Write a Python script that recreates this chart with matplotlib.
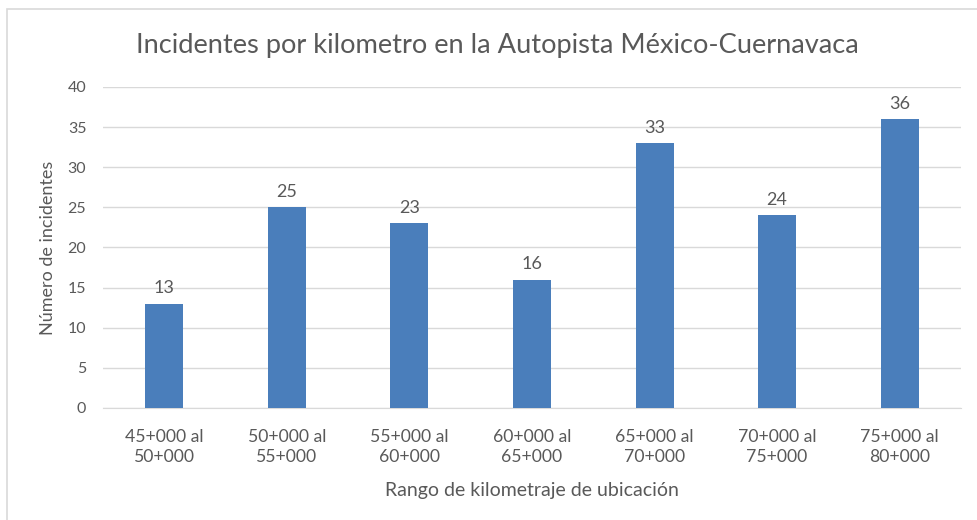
import matplotlib.pyplot as plt
from matplotlib.patches import Rectangle

categories = ['45+000 al\n50+000', '50+000 al\n55+000', '55+000 al\n60+000',
              '60+000 al\n65+000', '65+000 al\n70+000', '70+000 al\n75+000',
              '75+000 al\n80+000']
incidents = [13, 25, 23, 16, 33, 24, 36]
y_ticks = [0, 5, 10, 15, 20, 25, 30, 35, 40]

text_color = '#595959'
bar_color = '#4a7ebb'
grid_color = '#d9d9d9'

plt.rcParams['font.family'] = ['Lato', 'DejaVu Sans']

fig = plt.figure(figsize=(9.77, 5.2), dpi=100)
ax = fig.add_axes([0.1054, 0.2154, 0.8782, 0.6173])

# outer chart border (only top and left visible in the reference)
fig.patches.append(Rectangle((7 / 977, -0.05), 1.2, 1 - 9 / 520 + 0.05,
                             transform=fig.transFigure, fill=False,
                             edgecolor='#d9d9d9', linewidth=1.2))

x = range(len(categories))
bars = ax.bar(x, incidents, width=0.31, color=bar_color, zorder=3)
for xi, v in zip(x, incidents):
    ax.text(xi, v + 0.9, str(v), ha='center', va='bottom',
            fontsize=13, color=text_color)

ax.set_xlim(-0.5, len(categories) - 0.5)
ax.set_ylim(0, 40)
ax.set_yticks(y_ticks)
ax.set_xticks(list(x))
ax.set_xticklabels(categories, fontsize=12.7, color=text_color, linespacing=1.35)
ax.tick_params(axis='y', labelsize=11.5, labelcolor=text_color, length=0, pad=12)
ax.tick_params(axis='x', length=0, pad=15)
ax.yaxis.grid(True, color=grid_color, linewidth=1, zorder=0)
ax.set_axisbelow(True)
for s in ['top', 'right', 'left']:
    ax.spines[s].set_visible(False)
ax.spines['bottom'].set_color(grid_color)

ax.set_ylabel('Número de incidentes', fontsize=13, color=text_color, labelpad=8)
ax.set_xlabel('Rango de kilometraje de ubicación', fontsize=14, color=text_color, labelpad=12)
fig.text(0.509, 0.913, 'Incidentes por kilometro en la Autopista México-Cuernavaca',
         ha='center', va='center', fontsize=19.6, color=text_color)

fig.savefig('out.png', dpi=100)
